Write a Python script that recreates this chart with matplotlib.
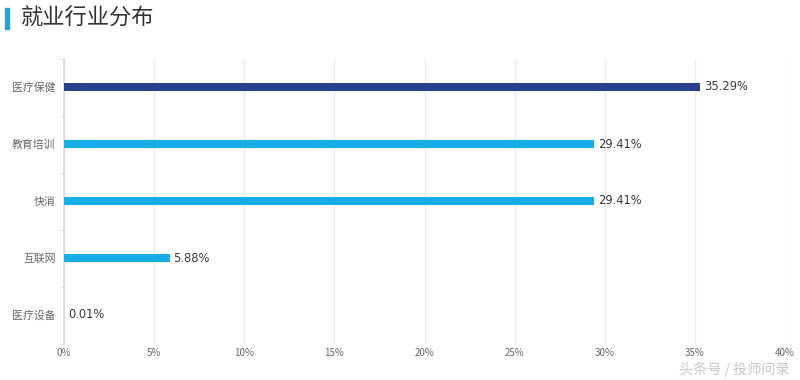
import matplotlib
matplotlib.use("Agg")
import matplotlib.pyplot as plt
from matplotlib.patches import Rectangle

plt.rcParams['font.family'] = ['Noto Sans CJK SC', 'DejaVu Sans']

categories = ["医疗保健", "教育培训", "快消", "互联网", "医疗设备"]
values = [35.29, 29.41, 29.41, 5.88, 0.01]
labels = ["35.29%", "29.41%", "29.41%", "5.88%", "0.01%"]
colors = ["#2a3f8e", "#16aee6", "#16aee6", "#16aee6", "#16aee6"]
xticks = [0, 5, 10, 15, 20, 25, 30, 35, 40]
xticklabels = ["0%", "5%", "10%", "15%", "20%", "25%", "30%", "35%", "40%"]
title = "就业行业分布"

W, H = 800, 380
fig = plt.figure(figsize=(8, 3.8), dpi=100)
ax = fig.add_axes([64 / W, 1 - 343.5 / H, (785 - 64) / W, (343.5 - 58.5) / H])

y = list(range(len(categories)))
ax.barh(y, values, height=0.15, color=colors, zorder=3)
for yi, v, lab in zip(y, values, labels):
    ax.text(v + 0.2, yi, lab, va='center', ha='left', fontsize=8.3, color='#3a3a3a',
            family=['DejaVu Sans'], zorder=4)

ax.set_ylim(len(categories) - 0.5, -0.5)
ax.set_xlim(0, 40)
ax.set_yticks(y)
ax.set_yticklabels(categories, fontsize=7.8, color='#666666')
ax.set_xticks(xticks)
ax.set_xticklabels(xticklabels, fontsize=7, color='#666666')
ax.set_yticks([i + 0.5 for i in range(-1, len(categories))], minor=True)
ax.tick_params(axis='y', which='major', length=0, pad=6)
ax.tick_params(axis='y', which='minor', length=3, color='#dddddd', direction='out')
ax.tick_params(axis='x', which='major', length=0, pad=3)
ax.grid(axis='x', color='#ececec', linewidth=1, zorder=0)
for s in ['top', 'right', 'bottom']:
    ax.spines[s].set_visible(False)
ax.spines['left'].set_color('#d8d8d8')
ax.spines['left'].set_linewidth(1.2)

# title decoration
fig.patches.append(Rectangle((5 / W, 1 - 29 / H), 4 / W, 21 / H, transform=fig.transFigure,
                             color='#1aa7df', figure=fig))
fig.text(21 / W, 1 - 18 / H, title, fontsize=16, color='#333333', va='center', ha='left')

# watermark
fig.text(790 / W, 1 - 369 / H, "头条号 / 投师问录", fontsize=10.2, color='#c8c8c8',
         va='center', ha='right')

fig.savefig("out.png", dpi=100, facecolor='white')
